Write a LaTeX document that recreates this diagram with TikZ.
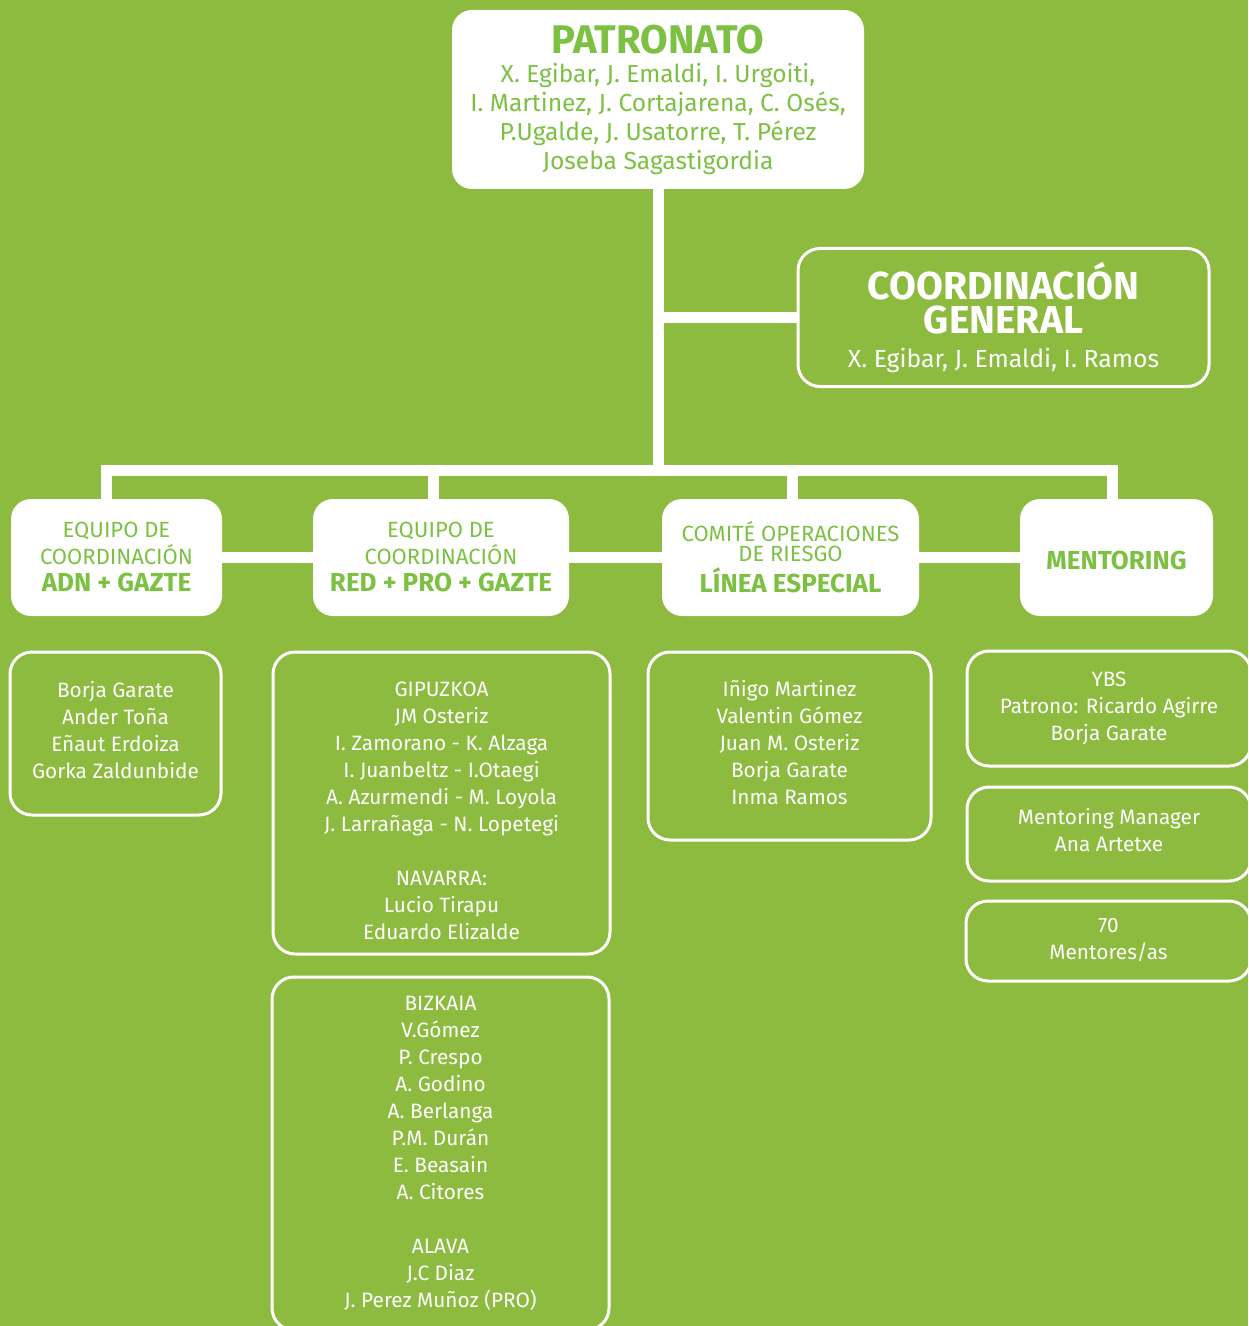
\documentclass[tikz,border=0pt]{standalone}
\usepackage{fontspec}
\setmainfont{Fira Sans}
\definecolor{bggreen}{HTML}{8DBB40}
\definecolor{txtgreen}{HTML}{7CC142}
\newcommand{\listfont}{\fontsize{10.4pt}{13.5pt}\selectfont}
\tikzset{
  whitebox/.style={fill=white, rounded corners=10pt, align=center,
    text=txtgreen, inner sep=0pt},
  listbox/.style={draw=white, line width=1.5pt, rounded corners=11pt,
    align=center, text=white, inner sep=0pt, font=\listfont},
  link/.style={draw=white, line width=5.5pt, line join=miter},
}

\begin{document}
\begin{tikzpicture}[x=0.5pt,y=-0.5pt]
        % Background
        \fill[bggreen] (0,0) rectangle (1248,1326);
        \useasboundingbox (0,0) rectangle (1248,1326);
        % Top of the chart
        \node[whitebox, minimum width=206pt, minimum height=89.5pt,
            font=\fontsize{12.3pt}{14.5pt}\selectfont] (patronato) at (658,99.5)
            {{\fontsize{20pt}{14.5pt}\selectfont\bfseries PATRONATO}\\
             X. Egibar, J. Emaldi, I. Urgoiti,\\
             I. Martinez, J. Cortajarena, C. Osés,\\
             P.Ugalde, J. Usatorre, T. Pérez\\
             Joseba Sagastigordia};
        \node[listbox, minimum width=205.5pt, minimum height=69pt,
            font=\fontsize{19.5pt}{17pt}\selectfont] (general) at (1003.5,317.5)
            {{\bfseries COORDINACIÓN}\\
             {\bfseries GENERAL}\\
             {\fontsize{12.4pt}{17pt}\selectfont X. Egibar, J. Emaldi, I. Ramos}};
        % Second row: the teams
        \node[whitebox, minimum width=105.5pt, minimum height=58.5pt,
            font=\fontsize{11pt}{13.5pt}\selectfont] (adn) at (116.5,557.5)
            {EQUIPO DE\\ COORDINACIÓN\\
             {\fontsize{13pt}{14.5pt}\selectfont\bfseries ADN + GAZTE}};
        \node[whitebox, minimum width=128pt, minimum height=58.5pt,
            font=\fontsize{11pt}{13.5pt}\selectfont] (red) at (441,557.5)
            {EQUIPO DE\\ COORDINACIÓN\\
             {\fontsize{13pt}{14.5pt}\selectfont\bfseries RED + PRO + GAZTE}};
        \node[whitebox, minimum width=128.5pt, minimum height=58.5pt,
            font=\fontsize{11pt}{10pt}\selectfont] (comite) at (790.5,557.5)
            {COMITÉ OPERACIONES\\ DE RIESGO\\[2pt]
             {\fontsize{13pt}{14.5pt}\selectfont\bfseries LÍNEA ESPECIAL}};
        \node[whitebox, minimum width=96.5pt, minimum height=58.5pt, text height=12pt,
            font=\fontsize{13pt}{14pt}\selectfont\bfseries] (mentoring) at (1116.5,557.5)
            {MENTORING};
        % Third row: the people
        \node[listbox, minimum width=105.5pt, minimum height=81.5pt, text depth=4pt]
            (adnlist) at (115.5,733.5)
            {Borja Garate\\ Ander Toña\\ Eñaut Erdoiza\\ Gorka Zaldunbide};
        \node[listbox, minimum width=168.5pt, minimum height=151pt]
            (gipuzkoa) at (441.5,803)
            {\mbox{}\\[1.8pt]
             GIPUZKOA\\ JM Osteriz\\ I. Zamorano - K. Alzaga\\ I. Juanbeltz - I.Otaegi\\
             A. Azurmendi - M. Loyola\\ J. Larrañaga - N. Lopetegi\\[13.5pt]
             NAVARRA:\\ Lucio Tirapu\\ Eduardo Elizalde};
        \node[listbox, minimum width=168.5pt, minimum height=176.5pt, text depth=2pt]
            (bizkaia) at (440.5,1153.5)
            {BIZKAIA\\ V.Gómez\\ P. Crespo\\ A. Godino\\ A. Berlanga\\ P.M. Durán\\
             E. Beasain\\ A. Citores\\[13.5pt]
             ALAVA\\ J.C Diaz\\ J. Perez Muñoz (PRO)};
        \node[listbox, minimum width=141.5pt, minimum height=94pt, text depth=4pt]
            (comitelist) at (789.5,746)
            {Iñigo Martinez\\ Valentin Gómez\\ Juan M. Osteriz\\ Borja Garate\\ Inma Ramos};
        \node[listbox, minimum width=142pt, minimum height=57.5pt] (ybs) at (1109,708.5)
            {YBS\\ Patrono: Ricardo Agirre\\ Borja Garate};
        \node[listbox, minimum width=142pt, minimum height=47pt, text depth=4pt]
            (manager) at (1109,834)
            {Mentoring Manager\\ Ana Artetxe};
        \node[listbox, minimum width=142.5pt, minimum height=40pt, text depth=2pt]
            (mentores) at (1108.5,941)
            {70\\ Mentores/as};
        % Connectors
        \coordinate (j1) at (106,470);
        \coordinate (j2) at (433,470);
        \coordinate (j3) at (792,470);
        \coordinate (j4) at (1112,470);
        \draw[link] (patronato.south) -- (patronato.south |- j1);
        \draw[link] (patronato.south |- general.west) -- (general.west);
        \draw[link] (adn.north -| j1) -- (j1) -- (j4) -- (mentoring.north -| j4);
        \draw[link] (j2) -- (j2 |- red.north);
        \draw[link] (j3) -- (j3 |- comite.north);
        \draw[link] (adn.east) -- (red.west);
        \draw[link] (red.east) -- (comite.west);
        \draw[link] (comite.east) -- (mentoring.west);
\end{tikzpicture}
\end{document}
